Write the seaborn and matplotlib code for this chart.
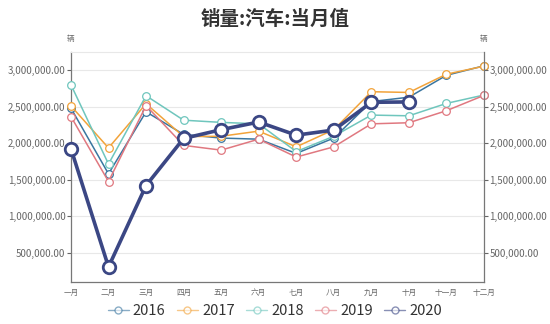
import matplotlib
matplotlib.use("Agg")
import matplotlib.pyplot as plt
import seaborn as sns
import pandas as pd
from matplotlib.ticker import FuncFormatter, FixedLocator
from matplotlib.lines import Line2D

months = ["一月", "二月", "三月", "四月", "五月", "六月", "七月", "八月", "九月", "十月", "十一月", "十二月"]
years = ["2016", "2017", "2018", "2019", "2020"]
s2016 = [2480000, 1580000, 2430000, 2120000, 2070000, 2055000, 1860000, 2070000, 2570000, 2630000, 2930000, 3060000]
s2017 = [2510000, 1935000, 2540000, 2090000, 2095000, 2165000, 1950000, 2185000, 2705000, 2695000, 2945000, 3055000]
s2018 = [2800000, 1715000, 2650000, 2315000, 2285000, 2265000, 1885000, 2095000, 2385000, 2375000, 2545000, 2660000]
s2019 = [2365000, 1475000, 2515000, 1970000, 1905000, 2055000, 1810000, 1950000, 2265000, 2280000, 2445000, 2655000]
s2020 = [1925000, 305000, 1420000, 2065000, 2185000, 2290000, 2110000, 2180000, 2560000, 2565000]
series = {"2016": s2016, "2017": s2017, "2018": s2018, "2019": s2019, "2020": s2020}
colors = {"2016": "#3a76a0", "2017": "#f2a33a", "2018": "#6fc6bd", "2019": "#e07880", "2020": "#3b4784"}
unit = "辆"
title = "销量:汽车:当月值"

rows = []
for y in years:
    for i, v in enumerate(series[y]):
        rows.append({"year": y, "idx": i, "value": v})
df = pd.DataFrame(rows)

sns.set_theme(style="white")
plt.rcParams["font.family"] = ["Noto Sans CJK SC", "DejaVu Sans"]

fig = plt.figure(figsize=(5.5, 3.24), dpi=100)
ax = fig.add_axes([0.129, 0.1306, 0.751, 0.708])

for y in years:
    d = df[df["year"] == y]
    big = (y == "2020")
    sns.lineplot(data=d, x="idx", y="value", ax=ax, color=colors[y],
                 lw=2.6 if big else 1.1, marker="o",
                 markersize=9 if big else 5.5,
                 markerfacecolor="white", markeredgecolor=colors[y],
                 markeredgewidth=2 if big else 0.9,
                 zorder=5 if big else 3, legend=False, clip_on=False)

ax.set_xlim(0, 11)
ax.set_ylim(103000, 3245000)
yt = [500000, 1000000, 1500000, 2000000, 2500000, 3000000]
ax.yaxis.set_major_locator(FixedLocator(yt))
fmt = FuncFormatter(lambda v, p: f"{v:,.2f}")
ax.yaxis.set_major_formatter(fmt)
ax.set_xticks(range(12))
ax.set_xticklabels(months, fontsize=5.5, color="#666666")
ax.tick_params(axis="y", labelsize=7, colors="#666666", length=3, width=0.8, pad=1)
ax.tick_params(axis="x", length=3, width=0.8, pad=2, colors="#666666")
ax.set_xlabel("")
ax.set_ylabel("")
ax.grid(axis="y", color="#e8e8e8", lw=0.8)
ax.set_axisbelow(True)
for sp in ["left", "bottom"]:
    ax.spines[sp].set_color("#777777")
    ax.spines[sp].set_linewidth(0.9)
ax.spines["top"].set_color("#e8e8e8")
ax.spines["top"].set_linewidth(0.8)
ax.spines["right"].set_visible(False)

ax2 = ax.twinx()
ax2.set_ylim(ax.get_ylim())
ax2.yaxis.set_major_locator(FixedLocator(yt))
ax2.yaxis.set_major_formatter(fmt)
ax2.tick_params(axis="y", labelsize=7, colors="#666666", length=3, width=0.8, pad=1)
ax2.spines["right"].set_color("#777777")
ax2.spines["right"].set_linewidth(0.9)
for sp in ["left", "top", "bottom"]:
    ax2.spines[sp].set_visible(False)
ax2.grid(False)

fig.text(0.129, 0.872, unit, fontsize=5.5, color="#666666", ha="center")
fig.text(0.88, 0.872, unit, fontsize=5.5, color="#666666", ha="center")
fig.text(0.5, 0.94, title, fontsize=14, fontweight="bold", color="#333333", ha="center", va="center")

handles = [Line2D([0], [0], color=colors[y], lw=1, marker="o", markersize=5,
                  markerfacecolor="white", markeredgecolor=colors[y], alpha=0.6) for y in years]
fig.legend(handles, years, loc="center", bbox_to_anchor=(0.5, 0.04), ncol=5, frameon=False,
           fontsize=10.5, handlelength=1.4, handletextpad=0.3, columnspacing=0.8,
           labelcolor="#333333")

fig.savefig("out.png", dpi=100)
